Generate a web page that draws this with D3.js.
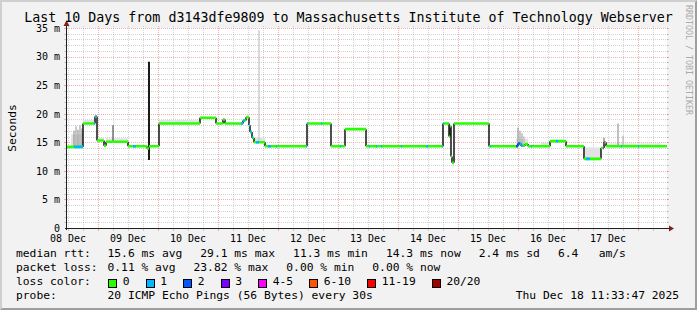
<!DOCTYPE html>
<html>
<head>
<meta charset="utf-8">
<script src="https://cdn.jsdelivr.net/npm/d3@7"></script>
<style>
  html, body { margin: 0; padding: 0; background: #f2f2f2; }
  svg { display: block; }
  text { font-family: "DejaVu Sans Mono", monospace; fill: #000; }
</style>
</head>
<body>
<svg id="chart" width="697" height="310"></svg>
<script>
// ---- data ----
const titleText = "Last 10 Days from d3143dfe9809 to Massachusetts Institute of Technology Webserver";
const yTicks = [0, 5, 10, 15, 20, 25, 30, 35];
const dayLabels = ["08 Dec", "09 Dec", "10 Dec", "11 Dec", "12 Dec", "13 Dec", "14 Dec", "15 Dec", "16 Dec", "17 Dec"];

// median rtt, step series: hours since Dec 08 11:33:47 -> ms
const medHours = [0, 6.4, 11.2, 12, 14.8, 15.6, 24.4, 32, 32.8, 36.8, 53.2, 59.6, 62.4, 63.2, 70.4, 71.6, 72.8, 73.2, 74, 74.8,
  79.2, 96, 105.6, 111.2, 119.6, 150.4, 152.8, 153.2, 153.6, 154, 154.8, 168.8, 180.4, 181.6, 183.2, 184.4, 193.2, 199.6,
  206.8, 213.6, 214.8, 215.6];
const medMs = [14.2, 18.3, 19.5, 15.3, 14.4, 15.1, 14.3, 13.9, 14.3, 18.3, 19.3, 18.3, 19.0, 18.3, 18.8, 19.4, 18.0, 16.8, 15.8, 15.0,
  14.3, 18.3, 14.3, 17.3, 14.3, 18.3, 16.0, 17.8, 12.5, 11.4, 18.3, 14.3, 14.8, 14.4, 14.7, 14.3, 15.2, 14.3,
  12.1, 14.0, 15.0, 14.3];

// stretches where the median was drawn in a loss colour (index into lossColors)
const lossStart = [2.8, 10.8, 26.4, 69.6, 72.8, 75.6, 80.4, 83.6, 95.6, 101.6, 109.2, 120.8, 123.6, 125.6, 133.6, 143.6, 150,
  169.2, 179.6, 181.2, 185.6, 195.6, 207.6, 214.4, 221.6, 228.4];
const lossEnd = [6.4, 12, 27.6, 71.2, 74.4, 76.8, 81.6, 84, 96.4, 102, 109.6, 121.2, 124, 126, 134, 144.4, 150.8,
  169.6, 181.2, 182.4, 186, 196.4, 209.2, 215.2, 222, 228.8];
const lossLevel = [1, 1, 1, 1, 1, 1, 1, 1, 1, 1, 1, 1, 1, 1, 1, 1, 1, 1, 2, 1, 1, 1, 1, 4, 1, 1];

// smoke band above the median
const smokeStart = [1.6, 6.4, 12.4, 15.6, 36.8, 74.8, 179.6, 189.6, 207.2, 215.6];
const smokeEnd = [6.4, 11.2, 14.8, 24.4, 53.2, 79.2, 184.4, 193.2, 213.6, 237.6];
const smokeTop = [16.4, 18.9, 15.8, 15.7, 18.9, 15.8, 15.6, 14.9, 14.1, 14.8];

// single-pixel smoke spikes
const spikeHours = [2.8, 3.6, 4.4, 5.2, 6.0, 18.4, 76.8, 180.4, 181.2, 182.0, 182.8, 214.8, 220.4, 222.4];
const spikeLow = [14.2, 14.2, 14.2, 14.2, 14.2, 15.1, 15.0, 14.5, 14.5, 14.5, 14.5, 15.0, 14.3, 14.3];
const spikeHigh = [17.0, 17.8, 17.2, 18.0, 17.4, 18.0, 34.6, 17.6, 17.0, 16.6, 16.0, 15.8, 18.3, 16.2];
const spikeDensity = [0.3, 0.25, 0.3, 0.25, 0.3, 0.55, 0.15, 0.3, 0.25, 0.25, 0.2, 0.4, 0.3, 0.2];

// dark smoke spike (burst of slow pings)
const darkHours = [32.8];
const darkLow = [11.9];
const darkHigh = [29.1];

const rttStats = ["15.6 ms avg", "29.1 ms max", "11.3 ms min", "14.3 ms now", "2.4 ms sd", "6.4   am/s"];
const lossStats = ["0.11 % avg", "23.82 % max", "0.00 % min", "0.00 % now"];
const lossLabels = ["0", "1", "2", "3", "4-5", "6-10", "11-19", "20/20"];
const lossColors = ["#26ff00", "#00b8ff", "#0059ff", "#7e00ff", "#ff00ff", "#ff5500", "#ff0000", "#a00000"];
const probeText = "20 ICMP Echo Pings (56 Bytes) every 30s";
const stampText = "Thu Dec 18 11:33:47 2025";

// ---- layout ----
const W = 697, H = 310;
const X0 = 67, X1 = 667, Y0 = 228, Y1 = 28;
const t0 = Date.UTC(2025, 11, 8, 11, 33, 47);
const t1 = t0 + 240 * 3600e3;
const CW = 6.8; // legend char advance

const svg = d3.select("#chart");
const x = d3.scaleUtc().domain([t0, t1]).range([X0, X1]);
const y = d3.scaleLinear().domain([0, 35]).range([Y0, Y1]);
const hx = h => x(t0 + h * 3600e3);
const medAt = h => medMs[Math.max(0, d3.bisectRight(medHours, h) - 1)];

// background + bevel
svg.append("rect").attr("width", W).attr("height", H).attr("fill", "#f2f2f2");
svg.append("path").attr("d", `M0,0H${W}L${W - 2},2H2V${H - 2}L0,${H}Z`).attr("fill", "#cfcfcf");
svg.append("path").attr("d", `M${W},0V${H}H0L2,${H - 2}H${W - 2}V2Z`).attr("fill", "#9e9e9e");
svg.append("rect").attr("x", X0).attr("y", Y1).attr("width", X1 - X0).attr("height", Y0 - Y1).attr("fill", "#fff");

// grid
const grid = svg.append("g").attr("shape-rendering", "crispEdges").attr("stroke-width", 1);
const minorCol = "rgba(143,143,143,0.4)", majorCol = "rgba(222,79,79,0.45)";
d3.range(1, 36).forEach(v => {
  const yy = Math.round(y(v)) + 0.5, major = v % 5 === 0;
  const col = major ? majorCol : minorCol;
  grid.append("line").attr("x1", X0).attr("x2", X1 + 2).attr("y1", yy).attr("y2", yy)
    .attr("stroke", col).attr("stroke-dasharray", "1,1");
  grid.append("line").attr("x1", X0 - 3).attr("x2", X0).attr("y1", yy).attr("y2", yy).attr("stroke", col);
  grid.append("line").attr("x1", X1).attr("x2", X1 + 2).attr("y1", yy).attr("y2", yy).attr("stroke", col);
});
d3.utcHour.every(6).range(t0, t1).forEach(t => {
  const xx = Math.round(x(t)) + 0.5, major = t.getUTCHours() === 0;
  const col = major ? majorCol : minorCol;
  grid.append("line").attr("x1", xx).attr("x2", xx).attr("y1", Y1 - 2).attr("y2", Y0)
    .attr("stroke", col).attr("stroke-dasharray", "1,1");
  grid.append("line").attr("x1", xx).attr("x2", xx).attr("y1", Y0).attr("y2", Y0 + 3).attr("stroke", col);
});

// smoke
const plot = svg.append("g");
smokeStart.forEach((s, i) => {
  const top = y(smokeTop[i]), bot = y(medAt(s));
  plot.append("rect").attr("x", hx(s)).attr("width", hx(smokeEnd[i]) - hx(s))
    .attr("y", top).attr("height", Math.max(0, bot - top)).attr("fill", "#e2e2e2");
});
spikeHours.forEach((h, i) => {
  plot.append("line").attr("x1", hx(h)).attr("x2", hx(h)).attr("y1", y(spikeLow[i])).attr("y2", y(spikeHigh[i]))
    .attr("stroke", d3.interpolateGreys(0.2 + spikeDensity[i])).attr("stroke-width", 1.2);
});
darkHours.forEach((h, i) => {
  plot.append("line").attr("x1", hx(h)).attr("x2", hx(h)).attr("y1", y(darkLow[i])).attr("y2", y(darkHigh[i]))
    .attr("stroke", "#1a1a1a").attr("stroke-width", 2);
});

// median: vertical transitions dark, horizontal runs coloured by loss
const ends = medHours.slice(1).concat([240]);
let vPath = "", hPath = "";
medHours.forEach((h, i) => {
  if (i > 0) vPath += `M${hx(h)},${y(medMs[i - 1])}V${y(medMs[i])}`;
  hPath += `M${hx(h)},${y(medMs[i])}H${hx(ends[i])}`;
});
plot.append("path").attr("d", vPath).attr("stroke", "#222").attr("stroke-width", 1.6).attr("fill", "none");
plot.append("path").attr("d", hPath).attr("stroke", lossColors[0]).attr("stroke-width", 2.6).attr("fill", "none");

const defs = svg.append("defs");
lossStart.forEach((s, i) => {
  const id = "loss" + i;
  defs.append("clipPath").attr("id", id).append("rect")
    .attr("x", hx(s)).attr("width", hx(lossEnd[i]) - hx(s)).attr("y", 0).attr("height", H);
  plot.append("path").attr("d", hPath).attr("clip-path", `url(#${id})`)
    .attr("stroke", lossColors[lossLevel[i]]).attr("stroke-width", 2.6).attr("fill", "none");
});

// axes
svg.append("line").attr("x1", X0 - 2).attr("x2", X1 + 4).attr("y1", Y0 + 0.5).attr("y2", Y0 + 0.5)
  .attr("stroke", "#1f1f1f").attr("shape-rendering", "crispEdges");
svg.append("line").attr("x1", X0 - 0.5).attr("x2", X0 - 0.5).attr("y1", Y0 + 2).attr("y2", Y1 - 4)
  .attr("stroke", "#1f1f1f").attr("shape-rendering", "crispEdges");
svg.append("path").attr("d", `M${X1 + 2},${Y0 - 2.5}L${X1 + 7},${Y0 + 0.5}L${X1 + 2},${Y0 + 3.5}Z`).attr("fill", "#801f1f");
svg.append("path").attr("d", `M${X0 - 3.5},${Y1 - 2}L${X0 - 0.5},${Y1 - 7.5}L${X0 + 2.5},${Y1 - 2}Z`).attr("fill", "#801f1f");

// tick labels
svg.append("g").selectAll("text").data(yTicks).join("text")
  .attr("x", 60).attr("y", d => y(d) + 3.8).attr("text-anchor", "end").attr("font-size", 10)
  .text(d => d === 0 ? "0" : d + " m");
svg.append("g").selectAll("text").data(dayLabels).join("text")
  .attr("x", (d, i) => x(Date.UTC(2025, 11, 8 + i, 12))).attr("y", 241.5)
  .attr("text-anchor", "middle").attr("font-size", 10).text(d => d);

// titles
svg.append("text").attr("x", 348.5).attr("y", 22).attr("text-anchor", "middle").attr("font-size", 13.3).text(titleText);
svg.append("text").attr("transform", `translate(15.5,${(Y0 + Y1) / 2}) rotate(-90)`).attr("text-anchor", "middle")
  .attr("font-size", 11.3).text("Seconds");
svg.append("text").attr("transform", "translate(685.5,5) rotate(90)").attr("font-size", 8.3)
  .style("fill", "#aaa").text("RRDTOOL / TOBI OETIKER");

// legend
const leg = svg.append("g").attr("font-size", 11.3);
function row(label, items, yy) {
  leg.append("text").attr("x", 16).attr("y", yy).text(label);
  let xx = 107.5;
  items.forEach(s => {
    leg.append("text").attr("x", xx).attr("y", yy).attr("xml:space", "preserve").text(s);
    xx += s.length * CW + 18;
  });
}
row("median rtt:", rttStats, 257);
row("packet loss:", lossStats, 271);
leg.append("text").attr("x", 16).attr("y", 285).text("loss color:");
let bx = 108;
lossLabels.forEach((s, i) => {
  leg.append("rect").attr("x", bx + 0.5).attr("y", 279.5).attr("width", 8).attr("height", 8)
    .attr("fill", lossColors[i]).attr("stroke", "#000").attr("shape-rendering", "crispEdges");
  leg.append("text").attr("x", bx + 14.7).attr("y", 285).text(s);
  bx += 14.7 + s.length * CW + 16;
});
row("probe:", [probeText], 299);
leg.append("text").attr("x", 679).attr("y", 299).attr("text-anchor", "end").text(stampText);
</script>
</body>
</html>
